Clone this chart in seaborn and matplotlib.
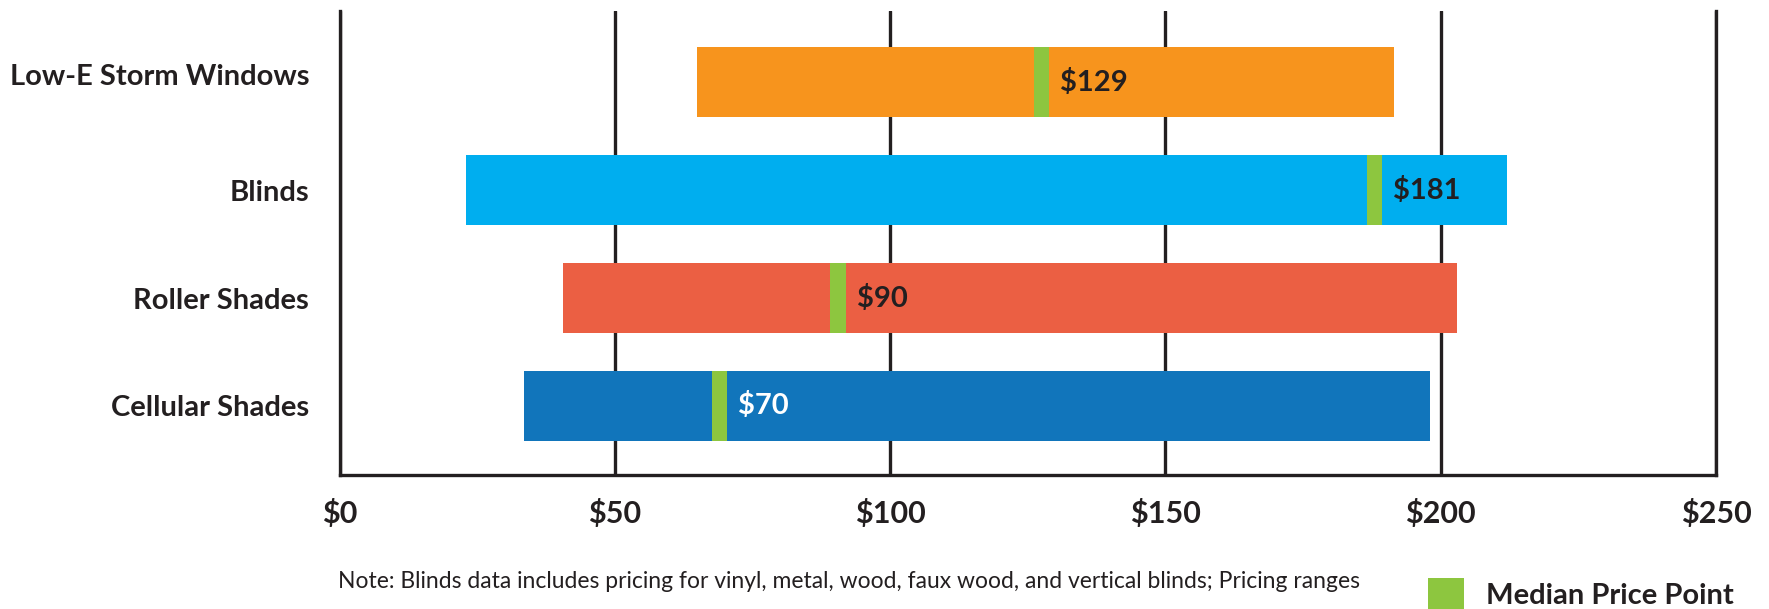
import numpy as np
import pandas as pd
import matplotlib
matplotlib.use("Agg")
import matplotlib.pyplot as plt
import matplotlib.transforms as mtransforms
import seaborn as sns
from matplotlib.patches import Patch

categories = ["Low-E Storm Windows", "Blinds", "Roller Shades", "Cellular Shades"]
low_prices = [65, 23, 40.5, 33.5]
high_prices = [191.5, 212, 203, 198]
median_labels = [129, 181, 90, 70]
median_marker = [127.5, 188, 90.5, 69]
bar_colors = ["#F7941D", "#00AEEF", "#EB5F43", "#1175BB"]
label_colors = ["#231F20", "#231F20", "#231F20", "#FFFFFF"]
x_ticks = [0, 50, 100, 150, 200, 250]
x_tick_labels = ["$0", "$50", "$100", "$150", "$200", "$250"]
note_text = ("Note: Blinds data includes pricing for vinyl, metal, wood, faux wood, "
             "and vertical blinds; Pricing ranges")
legend_label = "Median Price Point"

DARK = "#231F20"
GREEN = "#8DC63F"
MARK_W = 2.8

sns.set_theme(style="white")
plt.rcParams["font.family"] = ["Lato", "DejaVu Sans"]

fig = plt.figure(figsize=(17.69, 6.09), dpi=100)
ax = fig.add_axes([0.192, 0.22, 0.778, 0.762])

df = pd.DataFrame({"category": categories, "low": low_prices, "high": high_prices})
df["span"] = df["high"] - df["low"]

sns.barplot(data=df, x="span", y="category", order=categories, orient="y",
            left=df["low"].to_numpy(), width=0.65, color=bar_colors[0],
            saturation=1, linewidth=0, errorbar=None, ax=ax, zorder=2)
for patch, c in zip(ax.patches, bar_colors):
    patch.set_facecolor(c)
    patch.set_edgecolor(c)

mk = pd.DataFrame({"category": categories, "marker": median_marker})
mk["w"] = MARK_W
sns.barplot(data=mk, x="w", y="category", order=categories, orient="y",
            left=mk["marker"].to_numpy() - MARK_W / 2, width=0.65, color=GREEN,
            saturation=1, linewidth=0, errorbar=None, ax=ax, zorder=3)

for i, (m, v, tc) in enumerate(zip(median_marker, median_labels, label_colors)):
    ax.text(m + MARK_W / 2 + 2.0, i, f"${v}", ha="left", va="center",
            fontsize=21, fontweight="bold", color=tc, zorder=4)

ax.set_xlim(0, 250)
ax.set_ylim(3.64, -0.66)
ax.set_xticks(x_ticks)
ax.set_xticklabels(x_tick_labels)
ax.grid(axis="x", color=DARK, linewidth=2.4, zorder=0)
ax.grid(axis="y", visible=False)
ax.set_axisbelow(True)
ax.spines["top"].set_visible(False)
for s in ["left", "bottom", "right"]:
    ax.spines[s].set_color(DARK)
    ax.spines[s].set_linewidth(2.4)
ax.set_xlabel("")
ax.set_ylabel("")
ax.tick_params(axis="x", length=0, pad=17, labelsize=22, labelcolor=DARK)
ax.tick_params(axis="y", length=0, pad=22, labelsize=21, labelcolor=DARK)
for lab in ax.get_xticklabels() + ax.get_yticklabels():
    lab.set_fontweight("bold")

# first category label sits a little above its bar centre in the original
first = ax.get_yticklabels()[0]
first.set_transform(first.get_transform() +
                    mtransforms.ScaledTranslation(0, 8 / 100, fig.dpi_scale_trans))

fig.text(338 / 1769, 1 - 588 / 609, note_text, fontsize=16.5, va="baseline",
         ha="left", color=DARK)

fig.legend(handles=[Patch(facecolor=GREEN, edgecolor="none", label=legend_label)],
           loc="center left", bbox_to_anchor=(1428 / 1769, 1 - 594 / 609),
           frameon=False, handlelength=1.25, handleheight=1.3,
           handletextpad=0.75, borderpad=0, borderaxespad=0,
           prop={"weight": "bold", "size": 21})
for t in fig.legends[0].get_texts():
    t.set_color(DARK)

fig.savefig("out.png", dpi=100)
